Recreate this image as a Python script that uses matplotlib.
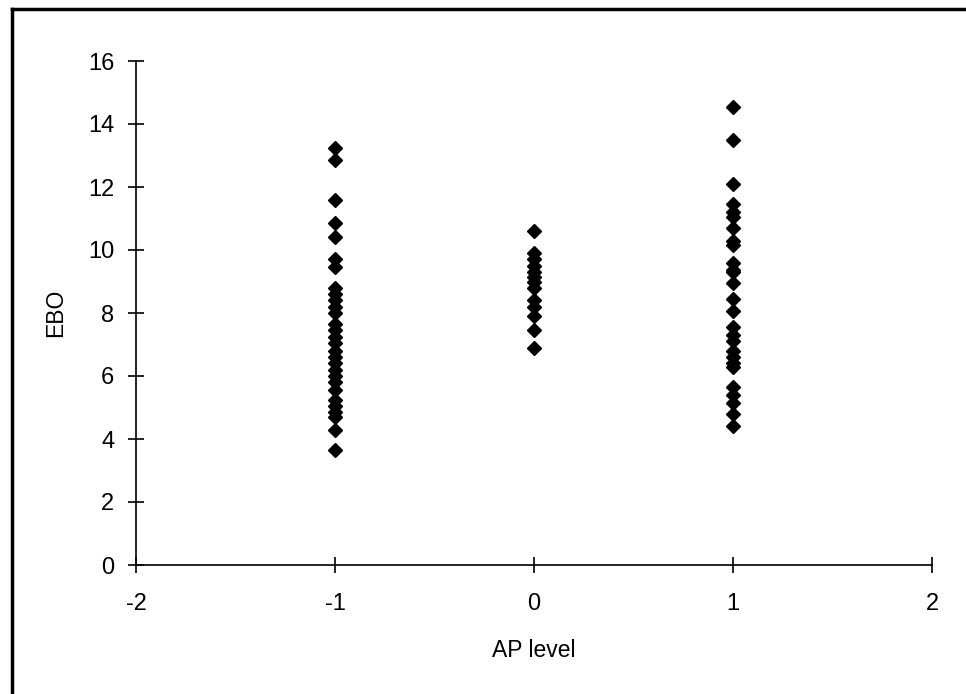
import matplotlib
matplotlib.use('Agg')
import matplotlib.pyplot as plt
from matplotlib.lines import Line2D

plt.rcParams['font.family'] = ['Liberation Sans', 'DejaVu Sans']

# EBO readings at each AP level
ebo_low = [13.25, 12.85, 11.6, 10.85, 10.4, 9.7, 9.45,
           8.8, 8.6, 8.4, 8.2, 8.0, 7.65, 7.45, 7.25, 7.05, 6.8,
           6.6, 6.4, 6.2, 6.0, 5.8, 5.55, 5.25, 5.05, 4.85, 4.7, 4.3, 3.65]
ebo_mid = [10.6, 9.9, 9.7, 9.5, 9.3, 9.15, 9.0, 8.8, 8.4, 8.2, 7.9, 7.45, 6.9]
ebo_high = [14.55, 13.5, 12.1, 11.45, 11.2, 11.05, 10.7, 10.3, 10.15, 9.6, 9.35,
            9.3, 8.95, 8.45, 8.05, 7.55, 7.3, 7.1, 6.8, 6.6, 6.4, 6.3,
            5.65, 5.4, 5.15, 4.8, 4.4]
ap_levels = [-1, 0, 1]

xticks = [-2, -1, 0, 1, 2]
yticks = [0, 2, 4, 6, 8, 10, 12, 14, 16]

fig = plt.figure(figsize=(9.66, 6.94), dpi=100)
ax = fig.add_axes([136 / 966, 1 - 565 / 694, (932 - 136) / 966, (565 - 61) / 694])

for lvl, vals in zip(ap_levels, [ebo_low, ebo_mid, ebo_high]):
    ax.plot([lvl] * len(vals), vals, linestyle='none', marker='D',
            markersize=7.5, color='black', clip_on=False)

ax.set_xlim(-2, 2)
ax.set_ylim(0, 16)
ax.set_xticks(xticks)
ax.set_yticks(yticks)
ax.set_xticklabels([str(t) for t in xticks])
ax.set_yticklabels([str(t) for t in yticks])

for s in ['top', 'right']:
    ax.spines[s].set_visible(False)
for s in ['left', 'bottom']:
    ax.spines[s].set_linewidth(1.2)
    ax.spines[s].set_color('black')

ax.tick_params(axis='y', direction='inout', length=11, width=1.2, pad=10, labelsize=17)
ax.tick_params(axis='x', direction='inout', length=11, width=1.2, pad=15, labelsize=17)

ax.set_xlabel('AP level', fontsize=16.5, labelpad=17)
ax.set_ylabel('EBO', fontsize=16.5, labelpad=15)

# outer frame (left and top edges only)
fig.add_artist(Line2D([12 / 966, 12 / 966], [0, 1 - 9 / 694], transform=fig.transFigure,
                      color='black', linewidth=2.5))
fig.add_artist(Line2D([12 / 966, 1], [1 - 9 / 694, 1 - 9 / 694], transform=fig.transFigure,
                      color='black', linewidth=2.5))

fig.savefig('out.png', dpi=100)
